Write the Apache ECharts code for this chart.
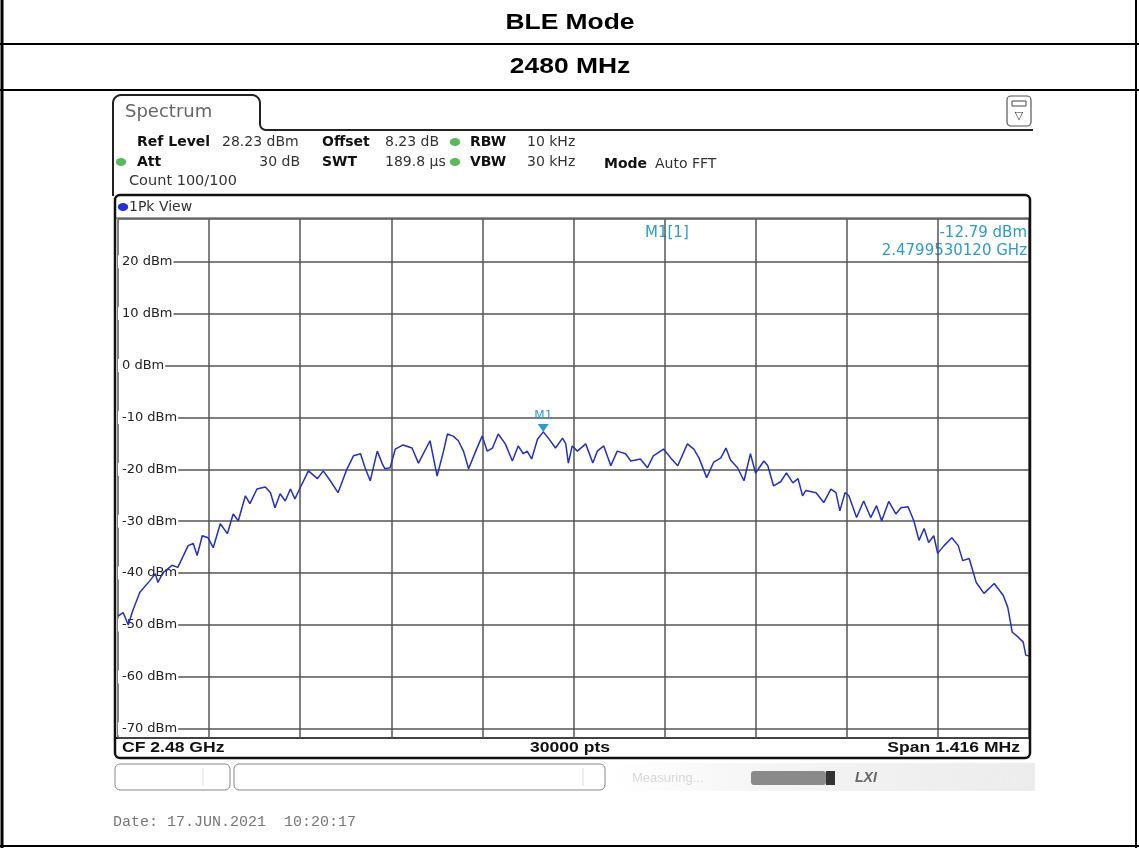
<!DOCTYPE html>
<html>
<head>
<meta charset="utf-8">
<title>BLE Mode 2480 MHz</title>
<script src="https://cdn.jsdelivr.net/npm/echarts@6.0.0/dist/echarts.min.js"></script>
<style>
  html, body { margin: 0; padding: 0; background: #fff; }
  #main { width: 1139px; height: 848px; }
</style>
</head>
<body>
<div id="main"></div>
<script>
// trace: offset from CF in kHz, level in dBm
const freqKHz = [
  -708, -700, -692, -685, -674, -658, -650, -646, -638, -624, -615, -599, -591, -585, -577, -568,
  -560, -549, -538, -529, -521, -510, -503, -492, -479, -471, -464, -456, -448, -440, -433, -425,
  -412, -398, -389, -378, -366, -352, -342, -331, -324, -316, -305, -297, -293, -285, -277, -265,
  -251, -241, -223, -212, -202, -196, -187, -179, -171, -163, -152, -142, -134, -126, -117, -106,
  -95, -86, -78, -72, -65, -56, -46.988, -39, -28, -17, -12, -8, -2, 6, 19, 30,
  37, 47, 58, 68, 81, 89, 104, 115, 124, 140, 151, 162, 177, 187, 195, 207,
  218, 229, 237, 244, 255, 265, 275, 283, 296, 302, 311, 322, 331, 341, 349, 356,
  361, 377, 389, 400, 408, 414, 422, 428, 440, 451, 462, 471, 479, 490, 501, 509,
  520, 529, 537, 545, 552, 560, 566, 576, 588, 598, 605, 615, 626, 638, 654, 668,
  675, 682, 691, 699, 703, 708
];
const levelDbm = [
  -48.3, -47.6, -50.0, -47.2, -43.7, -41.4, -40.1, -41.8, -39.9, -38.5, -38.9, -34.7, -34.3, -36.6, -32.8, -33.2,
  -35.1, -30.5, -32.4, -28.6, -29.9, -25.1, -26.6, -23.8, -23.4, -24.5, -27.4, -24.7, -26.1, -23.8, -25.7, -23.6,
  -20.3, -21.8, -20.3, -22.2, -24.5, -19.9, -17.4, -17.0, -19.7, -22.2, -16.5, -19.0, -19.9, -19.7, -16.1, -15.3,
  -15.9, -18.8, -14.5, -21.3, -16.5, -13.2, -13.6, -14.5, -16.5, -19.9, -16.5, -13.6, -16.5, -15.9, -13.2, -15.1,
  -18.4, -15.5, -17.0, -16.5, -18.0, -14.2, -12.79, -14.0, -15.9, -14.0, -15.1, -18.8, -15.5, -16.5, -15.1, -18.8,
  -16.5, -15.5, -19.3, -16.5, -17.0, -18.4, -18.0, -19.7, -17.4, -16.1, -17.8, -19.3, -15.1, -16.1, -17.8, -21.6,
  -18.6, -17.8, -15.9, -18.2, -19.7, -22.2, -17.0, -20.7, -18.4, -19.3, -23.2, -22.4, -20.7, -22.6, -21.8, -25.1,
  -24.1, -24.5, -26.4, -23.8, -24.5, -28.0, -24.5, -25.1, -29.3, -26.1, -29.3, -27.0, -29.9, -26.2, -28.6, -27.4,
  -27.2, -29.9, -33.7, -31.4, -34.1, -32.8, -36.2, -34.7, -33.2, -34.7, -37.6, -37.2, -41.8, -43.9, -42.0, -44.3,
  -46.6, -51.4, -52.3, -53.3, -55.8, -56.0
];

const refLevel = 28.23;          // dBm, top of screen
const rangeDb = 100;             // 10 dB/div
const cfMHz = 2480;
const spanKHz = 1416;
const markerIdx = 70;            // M1 peak

const markerFreqGHz = ((cfMHz * 1000 + freqKHz[markerIdx]) / 1e6).toFixed(10);
const markerLevel = levelDbm[markerIdx];

const txt = (x, y, text, font, fill, align, sx) => ({
  type: 'text', x: x, y: y, silent: true, scaleX: sx || 1,
  style: {
    text: text, font: font, fill: fill || '#222',
    textAlign: align || 'left', textVerticalAlign: 'middle',
    align: align || 'left', verticalAlign: 'middle'
  }
});
const line = (x1, y1, x2, y2, color, w) => ({
  type: 'line', silent: true,
  shape: { x1: x1, y1: y1, x2: x2, y2: y2 },
  style: { stroke: color, lineWidth: w }
});
function arcPts(cx, cy, r, a0, a1) {
  const pts = [];
  for (let i = 0; i <= 6; i++) {
    const a = (a0 + (a1 - a0) * i / 6) * Math.PI / 180;
    pts.push([cx + r * Math.cos(a), cy + r * Math.sin(a)]);
  }
  return pts;
}
const tabPts = [[113, 196]].concat(
  arcPts(121, 103, 8, 180, 270),
  arcPts(252, 103, 8, 270, 360),
  arcPts(266, 124, 6, 180, 90),
  [[1033, 130]]
);

const UI = '"DejaVu Sans", Verdana, sans-serif';
const NARROW = '"Liberation Sans", Arial, sans-serif';
const dot = (x, y, color) => ({
  type: 'circle', silent: true, x: x, y: y, scaleX: 1.3,
  shape: { cx: 0, cy: 0, r: 4 }, style: { fill: color }
});

const graphics = [
  // report table
  line(2, 0, 2, 848, '#000', 3),
  line(1136, 0, 1136, 848, '#000', 2),
  line(0, 44, 1139, 44, '#000', 2),
  line(0, 90, 1139, 90, '#000', 2),
  line(0, 846, 1139, 846, '#000', 2),
  txt(570, 23, 'BLE Mode', 'bold 22px "Liberation Sans", Arial', '#000', 'center', 1.2),
  txt(570, 67, cfMHz + ' MHz', 'bold 22px "Liberation Sans", Arial', '#000', 'center', 1.2),

  // analyzer tab + header
  { type: 'polyline', silent: true, shape: { points: tabPts }, style: { stroke: '#222', lineWidth: 2, fill: null } },
  txt(125, 112, 'Spectrum', '18px ' + UI, '#666'),
  { type: 'rect', silent: true, shape: { x: 1007, y: 96, width: 24, height: 30, r: 4 }, style: { stroke: '#555', fill: '#fff', lineWidth: 1.2 } },
  { type: 'rect', silent: true, shape: { x: 1012, y: 101, width: 14, height: 5 }, style: { stroke: '#444', fill: '#fff', lineWidth: 1 } },
  txt(1019, 116, '\u25BD', '11px ' + UI, '#333', 'center'),

  txt(137, 142, 'Ref Level', 'bold 14px ' + UI, '#111'),
  txt(222, 142, refLevel + ' dBm', '14px ' + UI, '#333'),
  txt(322, 142, 'Offset', 'bold 14px ' + UI, '#111'),
  txt(385, 142, '8.23 dB', '14px ' + UI, '#333'),
  dot(455, 142, '#5cb85c'),
  txt(470, 142, 'RBW', 'bold 14px ' + UI, '#111'),
  txt(527, 142, '10 kHz', '14px ' + UI, '#333'),
  dot(121, 162, '#5cb85c'),
  txt(137, 162, 'Att', 'bold 14px ' + UI, '#111'),
  txt(300, 162, '30 dB', '14px ' + UI, '#333', 'right'),
  txt(322, 162, 'SWT', 'bold 14px ' + UI, '#111'),
  txt(385, 162, '189.8 \u00B5s', '14px ' + UI, '#333'),
  dot(455, 162, '#5cb85c'),
  txt(470, 162, 'VBW', 'bold 14px ' + UI, '#111'),
  txt(527, 162, '30 kHz', '14px ' + UI, '#333'),
  txt(604, 164, 'Mode', 'bold 14px ' + UI, '#111'),
  txt(655, 164, 'Auto FFT', '14px ' + UI, '#333'),
  txt(129, 181, 'Count 100/100', '14.5px ' + UI, '#333'),

  // plot window
  { type: 'rect', silent: true, z: 10, shape: { x: 115, y: 195, width: 915, height: 563, r: 5 }, style: { stroke: '#111', fill: null, lineWidth: 2.5 } },
  line(116, 218, 1029, 218, '#333', 1),
  line(116, 738, 1029, 738, '#111', 2),
  dot(123, 207, '#2233cc'),
  txt(129, 207, '1Pk View', '14px ' + UI, '#333'),
  txt(645, 233, 'M1[1]', '15px ' + UI, '#2a9bd2'),
  txt(1027, 233, markerLevel.toFixed(2) + ' dBm', '15px ' + UI, '#2a9bd2', 'right'),
  txt(1027, 251, markerFreqGHz + ' GHz', '15px ' + UI, '#2a9bd2', 'right'),
  txt(122, 748, 'CF ' + (cfMHz / 1000) + ' GHz', 'bold 15px ' + NARROW, '#111', 'left', 1.17),
  txt(570, 748, '30000 pts', 'bold 15px ' + NARROW, '#111', 'center', 1.17),
  txt(1020, 748, 'Span ' + (spanKHz / 1000) + ' MHz', 'bold 15px ' + NARROW, '#111', 'right', 1.17),

  // status bar
  { type: 'rect', silent: true, shape: { x: 115, y: 764, width: 115, height: 26, r: 5 }, style: { stroke: '#888', fill: '#fff', lineWidth: 1 } },
  line(203, 768, 203, 786, '#ddd', 1),
  { type: 'rect', silent: true, shape: { x: 234, y: 764, width: 371, height: 26, r: 5 }, style: { stroke: '#888', fill: '#fff', lineWidth: 1 } },
  line(583, 768, 583, 786, '#ddd', 1),
  {
    type: 'rect', silent: true, shape: { x: 610, y: 763, width: 425, height: 28 },
    style: { fill: new echarts.graphic.LinearGradient(0, 0, 1, 0, [
      { offset: 0, color: '#ffffff' }, { offset: 0.4, color: '#f4f4f4' }, { offset: 1, color: '#ececec' }
    ]) }
  },
  txt(632, 778, 'Measuring...', '13px ' + NARROW, '#d8d8d8'),
  { type: 'rect', silent: true, shape: { x: 751, y: 771, width: 75, height: 14, r: 3 }, style: { fill: '#8a8a8a' } },
  { type: 'rect', silent: true, shape: { x: 826, y: 771, width: 9, height: 14 }, style: { fill: '#333' } },
  txt(855, 778, 'LXI', 'italic bold 14px ' + NARROW, '#666'),
  txt(990, 772, '17.06.2021', '11px ' + NARROW, '#f0f0f0', 'center'),
  txt(995, 784, '10:20:17', '11px ' + NARROW, '#f0f0f0', 'center'),

  txt(113, 822, 'Date: 17.JUN.2021  10:20:17', '15px "Liberation Mono", "DejaVu Sans Mono", monospace', '#777')
];

const myChart = echarts.init(document.getElementById('main'), null, { renderer: 'canvas' });

const option = {
  backgroundColor: '#fff',
  animation: false,
  grid: { left: 118, right: 1139 - 1029, top: 219, bottom: 848 - 738, show: false },
  xAxis: {
    type: 'value',
    min: -spanKHz / 2,
    max: spanKHz / 2,
    interval: spanKHz / 10,
    axisLine: { show: false },
    axisTick: { show: false },
    axisLabel: { show: false },
    splitLine: { lineStyle: { color: '#555', width: 1.5 } }
  },
  yAxis: {
    type: 'value',
    min: refLevel - rangeDb,
    max: refLevel,
    splitNumber: 10,
    axisLine: { show: false },
    axisTick: { show: false },
    axisLabel: {
      inside: true,
      margin: 0,
      color: '#222',
      fontFamily: 'DejaVu Sans',
      fontSize: 13,
      backgroundColor: '#fff',
      padding: [0, 1, 0, 4],
      formatter: v => (Math.abs(v % 10) < 1e-6 ? v + ' dBm' : '')
    },
    splitLine: { lineStyle: { color: '#555', width: 1.5 } }
  },
  series: [{
    type: 'line',
    data: freqKHz.map((f, i) => [f, levelDbm[i]]),
    showSymbol: false,
    symbol: 'none',
    lineStyle: { color: '#2430c0', width: 1.5 },
    z: 5,
    markPoint: {
      symbol: 'triangle',
      symbolRotate: 180,
      symbolSize: [11, 8],
      symbolOffset: [0, -4],
      itemStyle: { color: '#2a9bd2' },
      label: {
        show: true, position: 'top', distance: 2,
        formatter: 'M1', color: '#2a9bd2', fontFamily: 'DejaVu Sans', fontSize: 12
      },
      data: [{ coord: [freqKHz[markerIdx], markerLevel] }]
    }
  }],
  graphic: { elements: graphics }
};

myChart.setOption(option);
</script>
</body>
</html>
